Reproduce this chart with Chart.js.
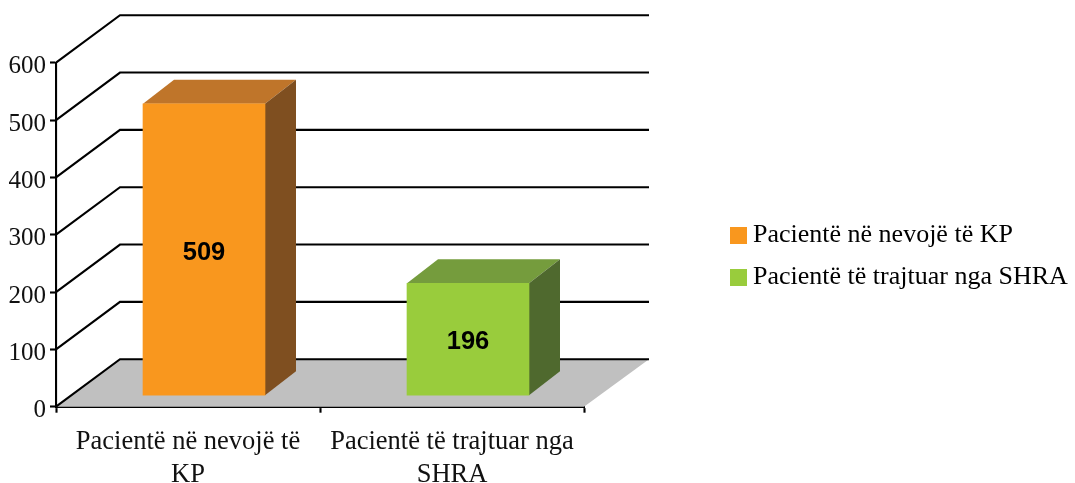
<!DOCTYPE html>
<html>
<head>
<meta charset="utf-8">
<style>
  html, body { margin: 0; padding: 0; background: #fff; }
  canvas { display: block; }
</style>
<script src="https://cdn.jsdelivr.net/npm/chart.js@4"></script>
</head>
<body>
<canvas id="chart" width="1075" height="483"></canvas>
<script>
const categories = [['Pacientë në nevojë të', 'KP'], ['Pacientë të trajtuar nga', 'SHRA']];
const values = [509, 196];
const frontColors = ['#F9971E', '#99CC3C'];
const topColors = ['#BF752A', '#759C3D'];
const sideColors = ['#7F4F20', '#4F692E'];
const yMax = 600;
const yStep = 100;

const textColor = '#111';
const serif = '"Liberation Serif", "Times New Roman", serif';
const axisWidth = 2.1;

// profundidade do "3D": parede do fundo e deslocamento das barras
const wallDepth = { x: 64, y: -47.5 };
const barOffset = { x: 16, y: -11 };
const barDepth = { x: 31, y: -24 };

const face = (ctx, color, pts) => {
    ctx.fillStyle = color;
    ctx.beginPath();
    pts.forEach((p, i) => (i ? ctx.lineTo(p[0], p[1]) : ctx.moveTo(p[0], p[1])));
    ctx.closePath();
    ctx.fill();
};

const wallPlugin = {
    id: 'wall',
    afterLayout(chart) {
        // a legenda fica fora da área do gráfico, à direita
        const legend = chart.legend;
        legend.left = 721;
        legend.right = 1075;
        legend.top = 206.5;
        legend.bottom = 320;
    },
    beforeDatasetsDraw(chart) {
        const { ctx, chartArea, scales } = chart;
        const y0 = scales.y.getPixelForValue(0);
        const { left, right } = chartArea;

        face(ctx, '#C0C0C0', [
            [left, y0],
            [left + wallDepth.x, y0 + wallDepth.y],
            [right + wallDepth.x + 1, y0 + wallDepth.y],
            [right, y0]
        ]);

        ctx.save();
        ctx.strokeStyle = '#000';
        ctx.lineWidth = axisWidth;
        scales.y.ticks.forEach((tick, i) => {
            const py = scales.y.getPixelForTick(i);
            ctx.beginPath();
            ctx.moveTo(left, py);
            ctx.lineTo(left + wallDepth.x, py + wallDepth.y);
            ctx.lineTo(right + wallDepth.x + 1, py + wallDepth.y);
            ctx.stroke();
        });
        ctx.restore();
    },
    beforeDatasetDraw(chart, args) {
        const { ctx } = chart;
        ctx.save();
        ctx.translate(barOffset.x, barOffset.y);
        args.meta.data.forEach((bar, i) => {
            const l = bar.x - bar.width / 2;
            const r = bar.x + bar.width / 2;
            face(ctx, topColors[i], [
                [l, bar.y],
                [l + barDepth.x, bar.y + barDepth.y],
                [r + barDepth.x, bar.y + barDepth.y],
                [r, bar.y]
            ]);
            face(ctx, sideColors[i], [
                [r, bar.y],
                [r + barDepth.x, bar.y + barDepth.y],
                [r + barDepth.x, bar.base + barDepth.y],
                [r, bar.base]
            ]);
        });
    },
    afterDatasetDraw(chart, args) {
        const { ctx } = chart;
        ctx.fillStyle = '#000';
        ctx.font = 'bold 25.5px "Liberation Sans", Arial, sans-serif';
        ctx.textAlign = 'center';
        ctx.textBaseline = 'middle';
        args.meta.data.forEach((bar, i) => {
            ctx.fillText(String(values[i]), bar.x, (bar.y + bar.base) / 2 + 3);
        });
        ctx.restore();
    }
};

new Chart(document.getElementById('chart'), {
    type: 'bar',
    data: {
        labels: categories,
        datasets: [{
            data: values,
            backgroundColor: frontColors,
            borderWidth: 0,
            barThickness: 122,
            clip: false
        }]
    },
    options: {
        responsive: false,
        animation: false,
        events: [],
        layout: { padding: { top: 62.7, right: 491, left: 0, bottom: 0 } },
        plugins: {
            tooltip: { enabled: false },
            legend: {
                position: 'chartArea',
                align: 'start',
                labels: {
                    font: { family: serif, size: 26 },
                    color: textColor,
                    padding: 16,
                    boxWidth: 3,
                    boxHeight: 3,
                    generateLabels: () => categories.map((c, i) => ({
                        text: c.join(' '),
                        fillStyle: frontColors[i],
                        strokeStyle: frontColors[i],
                        lineWidth: 14,
                        lineJoin: 'miter',
                        index: i
                    }))
                }
            }
        },
        scales: {
            x: {
                afterFit: (scale) => { scale.height = 76.3; },
                border: { color: '#000', width: axisWidth },
                grid: { drawOnChartArea: false, drawTicks: true, tickLength: 6, tickColor: '#000', tickWidth: axisWidth },
                ticks: {
                    color: textColor,
                    maxRotation: 0,
                    autoSkip: false,
                    padding: 13,
                    font: { family: serif, size: 26.5, lineHeight: 1.25 }
                }
            },
            y: {
                min: 0,
                max: yMax,
                afterFit: (scale) => { scale.width = 56; },
                border: { color: '#000', width: axisWidth },
                grid: { drawOnChartArea: false, drawTicks: true, tickLength: 6, tickColor: '#000', tickWidth: axisWidth },
                ticks: {
                    stepSize: yStep,
                    color: textColor,
                    padding: 4,
                    labelOffset: 4,
                    font: { family: serif, size: 25 }
                }
            }
        }
    },
    plugins: [wallPlugin]
});
</script>
</body>
</html>
